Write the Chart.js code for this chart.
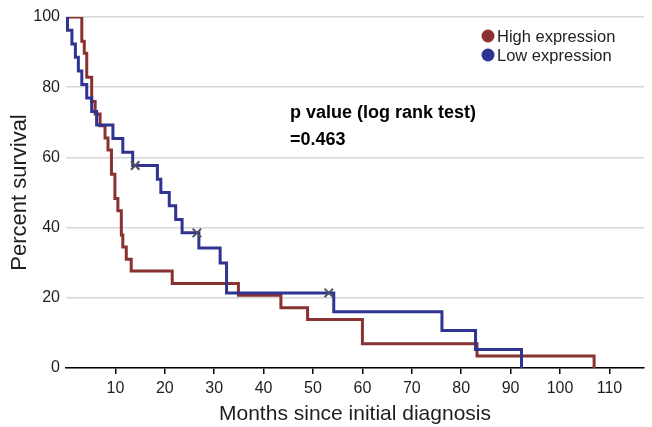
<!DOCTYPE html>
<html>
<head>
<meta charset="utf-8">
<script src="https://cdn.jsdelivr.net/npm/chart.js@4.4.1/dist/chart.umd.min.js"></script>
<style>
  html, body { margin: 0; padding: 0; background: #ffffff; }
  #wrap { width: 652px; height: 427px; }
</style>
</head>
<body>
<div id="wrap"><canvas id="c" width="652" height="427"></canvas></div>
<script>
// ---- Data ----
const seriesNames = ['High expression', 'Low expression'];

// High expression: event times (months) and survival (%) after each step
const highTimes    = [0, 3.2, 3.7, 4.2, 5.2, 5.9, 6.9, 7.9, 8.5, 9.2, 9.9, 10.5, 11.2, 11.5, 12.2, 13.2, 21.5, 34.9, 43.5, 48.9, 60.0, 83.2, 106.9];
const highSurvival = [100, 93.1, 89.7, 82.8, 75.9, 72.4, 69.0, 65.5, 62.1, 55.2, 48.3, 44.8, 37.9, 34.5, 31.0, 27.6, 24.1, 20.7, 17.2, 13.8, 6.9, 3.4, 0];

// Low expression
const lowTimes    = [0, 0.3, 1.2, 1.9, 2.5, 3.2, 4.2, 5.2, 6.2, 9.5, 11.5, 13.5, 18.5, 19.2, 20.9, 22.2, 23.5, 26.9, 31.2, 32.5, 54.2, 76.1, 82.9, 92.2];
const lowSurvival = [100, 96.2, 92.3, 88.5, 84.6, 80.8, 76.9, 73.1, 69.2, 65.4, 61.5, 57.7, 53.8, 50.0, 46.2, 42.3, 38.5, 34.2, 29.9, 21.4, 16.0, 10.7, 5.3, 0];

// Censored observations (Low expression)
const lowCensorTimes    = [14.0, 26.5, 53.2];
const lowCensorSurvival = [57.7, 38.5, 21.4];

// Axis ticks
const xTickValues = [10, 20, 30, 40, 50, 60, 70, 80, 90, 100, 110];
const yTickValues = [0, 20, 40, 60, 80, 100];

const xTitle = 'Months since initial diagnosis';
const yTitle = 'Percent survival';
const pValueLines = ['p value (log rank test)', '=0.463'];

// ---- Styles ----
const highColor = '#8a3131';
const lowColor = '#2f3391';
const FONT = "'Liberation Sans', Arial, sans-serif";

function toPoints(xs, ys) { return xs.map((x, i) => ({ x: x, y: ys[i] })); }

const textPlugin = {
  id: 'kmTexts',
  afterDraw(chart) {
    const ctx = chart.ctx;
    ctx.save();
    // legend
    const items = [
      { label: seriesNames[0], color: highColor, y: 36 },
      { label: seriesNames[1], color: lowColor, y: 55 }
    ];
    items.forEach(it => {
      ctx.beginPath();
      ctx.fillStyle = it.color;
      ctx.arc(488, it.y, 6.5, 0, Math.PI * 2);
      ctx.fill();
      ctx.fillStyle = '#1e1e1e';
      ctx.font = '16.5px ' + FONT;
      ctx.textBaseline = 'middle';
      ctx.textAlign = 'left';
      ctx.fillText(it.label, 497, it.y + 1);
    });
    // p value annotation
    ctx.fillStyle = '#000';
    ctx.font = 'bold 18px ' + FONT;
    ctx.textBaseline = 'alphabetic';
    ctx.fillText(pValueLines[0], 290, 118);
    ctx.fillText(pValueLines[1], 290, 145);
    ctx.restore();
  }
};

new Chart(document.getElementById('c'), {
  type: 'line',
  data: {
    datasets: [
      {
        label: seriesNames[0],
        data: toPoints(highTimes, highSurvival),
        borderColor: highColor,
        backgroundColor: highColor,
        borderWidth: 3,
        stepped: 'before',
        pointRadius: 0,
        fill: false,
        order: 2
      },
      {
        label: seriesNames[1],
        data: toPoints(lowTimes, lowSurvival),
        borderColor: lowColor,
        backgroundColor: lowColor,
        borderWidth: 3,
        stepped: 'before',
        pointRadius: 0,
        fill: false,
        order: 1
      },
      {
        label: 'censored',
        type: 'scatter',
        data: toPoints(lowCensorTimes, lowCensorSurvival),
        pointStyle: 'crossRot',
        pointRadius: 6,
        borderColor: '#4c5060',
        borderWidth: 2,
        showLine: false,
        order: 0
      }
    ]
  },
  options: {
    responsive: false,
    animation: false,
    devicePixelRatio: 1,
    layout: { padding: { top: 17, right: 1, left: 0, bottom: 0 } },
    plugins: {
      legend: { display: false },
      tooltip: { enabled: false }
    },
    scales: {
      x: {
        type: 'linear',
        min: 0,
        max: 117,
        afterBuildTicks: s => { s.ticks = xTickValues.map(v => ({ value: v })); },
        afterFit: s => { s.height = 59; },
        border: { display: true, color: '#000', width: 1.5 },
        grid: {
          drawOnChartArea: false,
          drawTicks: true,
          tickLength: 6,
          color: '#000',
          lineWidth: 1.5
        },
        ticks: {
          autoSkip: false,
          maxRotation: 0,
          padding: 5,
          color: '#1e1e1e',
          font: { family: FONT, size: 16 }
        },
        title: {
          display: true,
          text: xTitle,
          color: '#1e1e1e',
          font: { family: FONT, size: 21 },
          padding: { top: 0, bottom: 0 }
        }
      },
      y: {
        min: 0,
        max: 100,
        afterBuildTicks: s => { s.ticks = yTickValues.map(v => ({ value: v })); },
        afterFit: s => { s.width = 66; },
        border: { display: false },
        grid: {
          drawTicks: false,
          color: '#d6d6d6',
          lineWidth: 1.5
        },
        ticks: {
          padding: 6,
          color: '#1e1e1e',
          font: { family: FONT, size: 16 }
        },
        title: {
          display: true,
          text: yTitle,
          color: '#1e1e1e',
          font: { family: FONT, size: 22 },
          padding: { top: 7, bottom: 0 }
        }
      }
    }
  },
  plugins: [textPlugin]
});
</script>
</body>
</html>
